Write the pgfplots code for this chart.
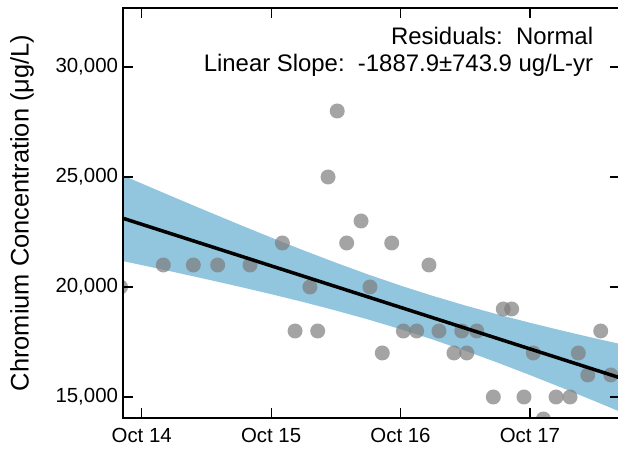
\documentclass[border=0pt]{standalone}
\usepackage{fontspec}
\setmainfont{Liberation Sans}
\usepackage{pgfplots}
\pgfplotsset{compat=1.18}
\definecolor{bandblue}{RGB}{146,197,222}
\definecolor{ptgray}{RGB}{125,125,125}
\begin{document}
\begin{tikzpicture}
\begin{axis}[
  scale only axis,
  width=497bp, height=410bp,
  xmin=-0.1445, xmax=3.696,
  ymin=14045, ymax=32682,
  axis on top,
  clip marker paths=true,
  axis line style={line width=2.5bp, black},
  tick align=inside,
  major tick length=10bp,
  tick style={line width=1.2bp, black},
  xtick={0,1,2,3},
  xticklabels={Oct 14, Oct 15, Oct 16, Oct 17},
  ytick={15000,20000,25000,30000},
  scaled y ticks=false,
  /pgf/number format/assume math mode=true,
  /pgf/number format/1000 sep={,},
  ticklabel style={font=\fontsize{20.5}{24}\selectfont},
  xticklabel style={yshift=-7bp},
  yticklabel style={xshift=-1.5bp},
  ylabel={Chromium Concentration (μg/L)},
  ylabel style={font=\fontsize{25.5}{30}\selectfont, at={(axis description cs:-0.19,0.5)}, anchor=base, rotate=0},
]
\addplot[fill=bandblue, draw=none] coordinates {
(-0.2,25209) (0,24704) (0.25,24077) (0.5,23458) (0.75,22848) (1.0,22249) (1.25,21666) (1.5,21105) (1.75,20569) (2.0,20065) (2.25,19595) (2.5,19159) (2.75,18754) (3.0,18375) (3.25,18015) (3.5,17671) (3.75,17339)
(3.75,14201) (3.5,14813) (3.25,15413) (3.0,15997) (2.75,16562) (2.5,17101) (2.25,17609) (2.0,18083) (1.75,18523) (1.5,18931) (1.25,19314) (1.0,19675) (0.75,20020) (0.5,20354) (0.25,20679) (0,20996) (-0.2,21247)
} -- cycle;
\addplot[only marks, mark=*, mark size=7.5bp, color=ptgray, mark options={draw opacity=0, fill=ptgray, fill opacity=0.7}] coordinates {
(0.167,21000) (0.399,21000) (0.587,21000) (0.837,21000)
(1.087,22000) (1.185,18000) (1.300,20000) (1.360,18000) (1.440,25000)
(1.511,28000) (1.584,22000) (1.695,23000) (1.764,20000) (1.859,17000)
(1.932,22000) (2.022,18000) (2.125,18000) (2.220,21000) (2.297,18000)
(2.413,17000) (2.473,18000) (2.512,17000) (2.589,18000) (2.717,15000)
(2.794,19000) (2.859,19000) (2.954,15000) (3.026,17000)
(3.202,15000) (3.310,15000) (3.374,17000) (3.447,16000) (3.547,18000)
(3.625,16000)
};
% points just outside the axis box (x = -0.164, y = 20000; x = 3.104, y = 14000), shown clipped at the edge
\addplot[only marks, mark=*, mark size=7.5bp, color=ptgray, mark options={xshift=-2.5bp, draw opacity=0, fill=ptgray, fill opacity=0.7}] coordinates {(-0.1444,20000)};
\addplot[only marks, mark=*, mark size=7.5bp, color=ptgray, mark options={yshift=-1bp, draw opacity=0, fill=ptgray, fill opacity=0.7}] coordinates {(3.104,14046)};
\addplot[black, line width=3.5bp] coordinates {(-0.2,23228) (3.75,15770)};
\node[anchor=base east, font=\fontsize{24}{28}\selectfont] at (rel axis cs:0.953,0.9098) {Residuals:\ \ Normal};
\node[anchor=base east, font=\fontsize{24}{28}\selectfont] at (rel axis cs:0.953,0.8439) {Linear Slope:\ \ -1887.9±743.9 ug/L-yr};
\coordinate (SW) at (rel axis cs:0,0);
\end{axis}
\pgfresetboundingbox
\path[use as bounding box] ([shift={(-123bp,-33bp)}]SW) rectangle ([shift={(495bp,418bp)}]SW);
\end{tikzpicture}
\end{document}
